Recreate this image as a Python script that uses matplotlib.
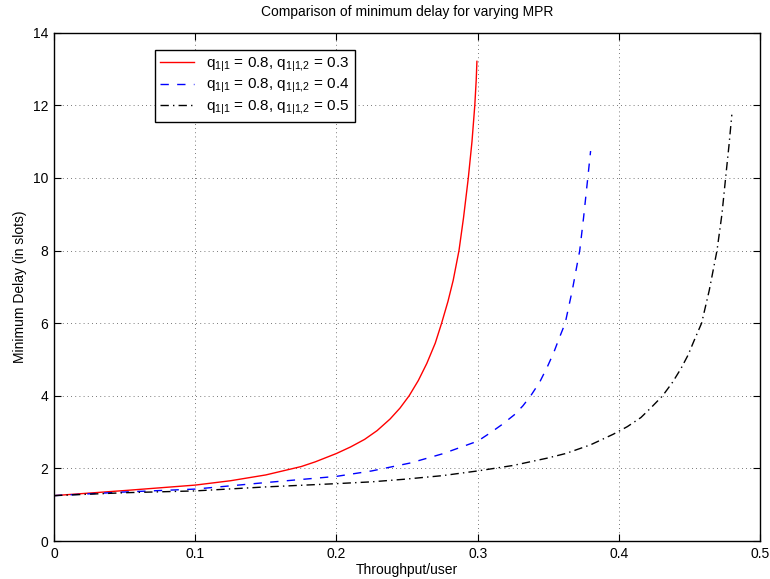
import matplotlib
matplotlib.use("Agg")
import matplotlib.pyplot as plt

plt.rcParams['font.family'] = ['Liberation Sans', 'DejaVu Sans']
plt.rcParams['mathtext.fontset'] = 'custom'
plt.rcParams['mathtext.rm'] = 'Liberation Sans'

# values
red_x = [0, 0.05, 0.1, 0.125, 0.15, 0.175, 0.185, 0.2, 0.21, 0.22, 0.2288, 0.238,
         0.245, 0.2515, 0.258, 0.264, 0.27, 0.2745, 0.279, 0.2827, 0.2868, 0.29,
         0.2934, 0.296, 0.298, 0.299, 0.2995]
red_y = [1.25, 1.39, 1.54, 1.66, 1.82, 2.05, 2.18, 2.41, 2.59, 2.80, 3.04, 3.36,
         3.66, 4.0, 4.42, 4.89, 5.45, 6.0, 6.6, 7.18, 8.0, 8.9,
         10.0, 11.0, 12.0, 12.7, 13.21]

blue_x = [0, 0.05, 0.1, 0.15, 0.2, 0.225, 0.2525, 0.275, 0.3, 0.309, 0.317, 0.3258,
          0.332, 0.3376, 0.344, 0.3494, 0.354, 0.3577, 0.362, 0.367, 0.3723, 0.375,
          0.378, 0.38]
blue_y = [1.25, 1.35, 1.43, 1.61, 1.78, 1.93, 2.15, 2.40, 2.75, 2.98, 3.2, 3.47,
          3.72, 4.0, 4.38, 4.80, 5.2, 5.58, 6.0, 6.9, 8.0, 8.9,
          10.0, 10.74]

black_x = [0, 0.05, 0.1, 0.15, 0.2, 0.225, 0.2477, 0.275, 0.3, 0.325, 0.349, 0.3624,
           0.38, 0.396, 0.406, 0.4156, 0.423, 0.431, 0.438, 0.444, 0.449, 0.4534,
           0.4586, 0.464, 0.4695, 0.473, 0.4756, 0.478, 0.48]
black_y = [1.25, 1.33, 1.38, 1.49, 1.58, 1.63, 1.70, 1.80, 1.93, 2.08, 2.28, 2.41,
           2.65, 2.94, 3.15, 3.40, 3.68, 4.0, 4.37, 4.75, 5.12, 5.53,
           6.0, 6.9, 8.0, 9.0, 10.0, 10.9, 11.74]

labels = [r'$\mathregular{q_{1|1}}$ = 0.8, $\mathregular{q_{1|1{,}2}}$ = 0.3',
          r'$\mathregular{q_{1|1}}$ = 0.8, $\mathregular{q_{1|1{,}2}}$ = 0.4',
          r'$\mathregular{q_{1|1}}$ = 0.8, $\mathregular{q_{1|1{,}2}}$ = 0.5']

xticks = [0, 0.1, 0.2, 0.3, 0.4, 0.5]
xticklabels = ['0', '0.1', '0.2', '0.3', '0.4', '0.5']
yticks = [0, 2, 4, 6, 8, 10, 12, 14]

fig = plt.figure(figsize=(7.7, 5.79), dpi=100)
ax = fig.add_axes([0.0701, 0.0656, 0.917, 0.878])

ax.plot(red_x, red_y, color='red', lw=1, ls='-', label=labels[0])
ax.plot(blue_x, blue_y, color='blue', lw=1, ls=(0, (6, 6)), label=labels[1])
ax.plot(black_x, black_y, color='black', lw=1, ls=(0, (6, 3, 1, 3)), label=labels[2])

ax.set_xlim(0, 0.5)
ax.set_ylim(0, 14)
ax.set_xticks(xticks)
ax.set_xticklabels(xticklabels)
ax.set_yticks(yticks)
ax.tick_params(direction='in', top=True, right=True, labelsize=10, length=5, pad=4)
ax.grid(True, ls=(0, (1, 4)), color='black', lw=0.6, alpha=0.7)
for s in ax.spines.values():
    s.set_linewidth(1)

ax.set_xlabel('Throughput/user', fontsize=10, labelpad=2)
ax.set_ylabel('Minimum Delay (in slots)', fontsize=10, labelpad=4)
ax.set_title('Comparison of minimum delay for varying MPR', fontsize=10, pad=12)

leg = ax.legend(loc='upper left', bbox_to_anchor=(0.143, 0.965), fontsize=11,
                frameon=True, fancybox=False, edgecolor='black', framealpha=1,
                handlelength=2.2, labelspacing=0.2, borderpad=0.35, handletextpad=0.8,
                borderaxespad=0)
leg.get_frame().set_linewidth(1)

fig.savefig('out.png', dpi=100)
